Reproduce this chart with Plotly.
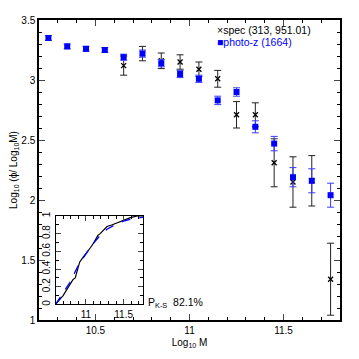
import plotly.graph_objects as go

# binned mass function, photo-z sample
phot_mass = [10.25, 10.35, 10.45, 10.55, 10.65, 10.75, 10.85, 10.95,
             11.05, 11.15, 11.25, 11.35, 11.45, 11.55, 11.65, 11.75]
phot_phi = [3.35, 3.28, 3.26, 3.25, 3.19, 3.22, 3.14, 3.05,
            3.01, 2.83, 2.90, 2.61, 2.47, 2.19, 2.16, 2.04]
phot_err = [0.02, 0.02, 0.02, 0.02, 0.025, 0.03, 0.03, 0.03,
            0.03, 0.035, 0.035, 0.05, 0.06, 0.08, 0.1, 0.1]

# binned mass function, spec sample
spec_mass = [10.65, 10.75, 10.85, 10.95, 11.05, 11.15, 11.25, 11.35,
             11.45, 11.55, 11.65, 11.75]
spec_phi = [3.12, 3.22, 3.16, 3.15, 3.09, 3.01, 2.71, 2.71,
            2.31, 2.15, 2.16, 1.34]
spec_err = [0.08, 0.06, 0.065, 0.06, 0.06, 0.07, 0.11, 0.1,
            0.2, 0.21, 0.21, 0.3]

# axis tick labels
main_xticks = [10.5, 11, 11.5]
main_xtext = ['10.5', '11', '11.5']
main_yticks = [1, 1.5, 2, 2.5, 3, 3.5]
main_ytext = ['1', '1.5', '2', '2.5', '3', '3.5']
inset_xticks = [11, 11.5]
inset_xtext = ['11', '11.5']
inset_yticks = [0, 0.2, 0.4, 0.6, 0.8, 1]
inset_ytext = ['0', '0.2', '0.4', '0.6', '0.8', '1']

# cumulative distributions for the inset
cdf_spec_x = [10.6, 10.64, 10.70, 10.75, 10.79, 10.83, 10.86, 10.89, 10.92, 10.97,
              11.01, 11.06, 11.10, 11.13, 11.16, 11.19, 11.24, 11.28, 11.35,
              11.41, 11.50, 11.59, 11.68, 11.76]
cdf_spec_y = [0.0, 0.04, 0.10, 0.17, 0.22, 0.28, 0.30, 0.38, 0.48, 0.54,
              0.58, 0.64, 0.69, 0.74, 0.78, 0.80, 0.84, 0.88, 0.90,
              0.92, 0.95, 0.98, 1.0, 1.0]
cdf_phot_x = [10.6, 10.66, 10.72, 10.79, 10.86, 10.92, 11.01, 11.10, 11.19,
              11.28, 11.41, 11.50, 11.59, 11.68, 11.76]
cdf_phot_y = [0.0, 0.08, 0.16, 0.25, 0.37, 0.47, 0.58, 0.69, 0.78,
              0.85, 0.91, 0.94, 0.96, 0.975, 0.985]

fig = go.Figure()

fig.add_trace(go.Scatter(
    x=spec_mass, y=spec_phi, mode='markers',
    marker=dict(symbol='x-thin', size=5, color='black', line=dict(width=1.3, color='black')),
    error_y=dict(type='data', array=spec_err, color='#222222', thickness=1, width=3.5),
    showlegend=False
))
fig.add_trace(go.Scatter(
    x=phot_mass, y=phot_phi, mode='markers',
    marker=dict(symbol='square', size=6, color='#0000ff'),
    error_y=dict(type='data', array=phot_err, color='#3a3aff', thickness=1, width=3.5),
    showlegend=False
))

# inset K-S cumulative curves
fig.add_trace(go.Scatter(
    x=cdf_spec_x, y=cdf_spec_y, mode='lines', xaxis='x2', yaxis='y2',
    line=dict(color='black', width=1.2), showlegend=False
))
fig.add_trace(go.Scatter(
    x=cdf_phot_x, y=cdf_phot_y, mode='lines', xaxis='x2', yaxis='y2',
    line=dict(color='#0000ff', width=1.3, dash='dash'), showlegend=False
))

axis_font = dict(family='Liberation Sans, Arial', size=10, color='black')

# the page body adds an 8px offset, so the figure is 351 px and margins are trimmed
fig.update_layout(
    width=351, height=351,
    margin=dict(l=31, r=19, t=12, b=39, autoexpand=False),
    paper_bgcolor='white', plot_bgcolor='white',
    font=axis_font,
    xaxis=dict(
        range=[10.2, 11.8], tickvals=main_xticks, ticktext=main_xtext,
        ticks='inside', ticklen=6, tickwidth=1, showline=True, linewidth=1.5,
        linecolor='black', mirror='allticks', showgrid=False, zeroline=False,
        minor=dict(dtick=0.1, tick0=10.2, ticks='inside', ticklen=3, tickcolor='black'),
        title=dict(text='Log<sub>10</sub> M', font=dict(size=10), standoff=4),
        automargin=False
    ),
    yaxis=dict(
        range=[1, 3.5], tickvals=main_yticks, ticktext=main_ytext,
        ticks='inside', ticklen=6, tickwidth=1, showline=True, linewidth=1.5,
        linecolor='black', mirror='allticks', showgrid=False, zeroline=False,
        minor=dict(dtick=0.1, tick0=1, ticks='inside', ticklen=3, tickcolor='black'),
        title=dict(text='Log<sub>10</sub> (ϕ/ Log<sub>10</sub>M)', font=dict(size=10), standoff=6),
        automargin=False
    ),
    xaxis2=dict(
        domain=[0.055, 0.3465], anchor='y2', range=[10.6, 11.76],
        tickvals=inset_xticks, ticktext=inset_xtext,
        ticks='inside', ticklen=5, showline=True, linewidth=1.3, linecolor='black',
        mirror='allticks', showgrid=False, zeroline=False,
        minor=dict(dtick=0.1, tick0=10.6, ticks='inside', ticklen=3, tickcolor='black'),
        tickfont=dict(size=10), automargin=False
    ),
    yaxis2=dict(
        domain=[0.052, 0.347], anchor='x2', range=[0, 1],
        tickvals=inset_yticks, ticktext=inset_ytext,
        ticks='inside', ticklen=5, showline=True, linewidth=1.3, linecolor='black',
        mirror='allticks', showgrid=False, zeroline=False, tickangle=-90,
        minor=dict(dtick=0.1, tick0=0.1, ticks='inside', ticklen=3, tickcolor='black'),
        tickfont=dict(size=10), automargin=False
    ),
    shapes=[dict(type='rect', xref='paper', yref='paper', x0=0.055, x1=0.3465,
                 y0=0.052, y1=0.347, fillcolor='white', line=dict(width=0), layer='below')],
    annotations=[
        dict(text='×spec (313, 951.01)', x=0.585, y=0.967, xref='paper', yref='paper',
             xanchor='left', yanchor='middle', showarrow=False,
             font=dict(size=10.5, color='black')),
        dict(text='■photo-z (1664)', x=0.585, y=0.927, xref='paper', yref='paper',
             xanchor='left', yanchor='middle', showarrow=False,
             font=dict(size=10.5, color='#0000ff')),
        dict(text='P<sub>K-S</sub>  82.1%', x=0.357, y=0.058, xref='paper', yref='paper',
             xanchor='left', yanchor='middle', showarrow=False,
             font=dict(size=10.5, color='black')),
    ]
)

fig.write_html("out.html")
